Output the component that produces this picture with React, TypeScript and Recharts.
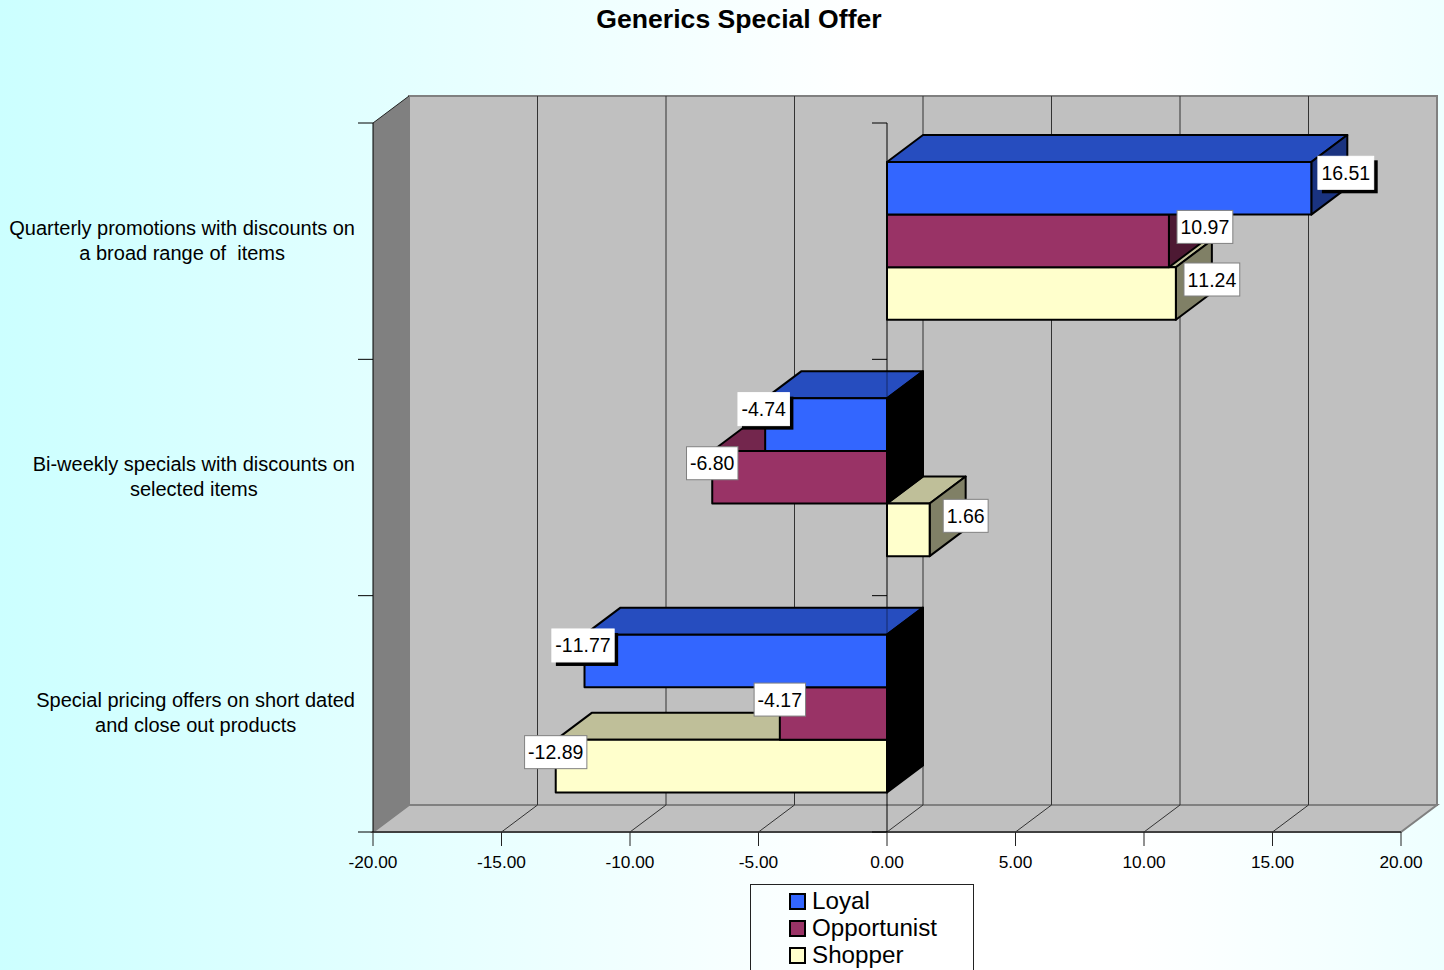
import React from 'react';
import { BarChart, Bar, XAxis, YAxis, ReferenceArea, ReferenceLine, LabelList, Legend } from 'recharts';

const categories = [
  ['Quarterly promotions with discounts on', 'a broad range of  items'],
  ['Bi-weekly specials with discounts on', 'selected items'],
  ['Special pricing offers on short dated', 'and close out products'],
];
const loyal = [16.51, -4.74, -11.77];
const opportunist = [10.97, -6.8, -4.17];
const shopper = [11.24, 1.66, -12.89];
const xTicks = [-20, -15, -10, -5, 0, 5, 10, 15, 20];

const data = categories.map((c, i) => ({
  name: c.join('|'),
  Loyal: loyal[i],
  Opportunist: opportunist[i],
  Shopper: shopper[i],
}));

const series = [
  { key: 'Loyal', front: '#3366FF', top: '#264DBF', side: '#1A3380', shadow: true },
  { key: 'Opportunist', front: '#993366', top: '#73264D', side: '#4D1933', shadow: false },
  { key: 'Shopper', front: '#FFFFCC', top: '#BFBF99', side: '#808066', shadow: false },
];

const DX = 36;
const DY = 27;
const FONT = '"Liberation Sans", Arial, sans-serif';

let ctx: any = null;
function measure(text: string, size: number, kerning = 'auto') {
  if (!ctx) ctx = document.createElement('canvas').getContext('2d');
  ctx.font = `${size}px "Liberation Sans"`;
  ctx.fontKerning = kerning;
  return ctx.measureText(text).width;
}

function Bar3D(props: any, s: (typeof series)[number]) {
  const { x, y, width, height, payload } = props;
  const v = payload[s.key];
  const l = Math.min(x, x + width);
  const r = Math.max(x, x + width);
  const b = y + height;
  const sideFill = v < 0 ? '#000000' : s.side;
  const base = v < 0 ? r : l;
  return (
    <g stroke="#000" strokeWidth={2} strokeLinejoin="round">
      <polygon points={`${l},${y} ${l + DX},${y - DY} ${r + DX},${y - DY} ${r},${y}`} fill={s.top} />
      {v < 0 && <line x1={base} x2={base} y1={y - DY} y2={y} stroke="#000" strokeOpacity={0.45} strokeWidth={1} />}
      <polygon points={`${r},${y} ${r + DX},${y - DY} ${r + DX},${b - DY} ${r},${b}`} fill={sideFill} />
      <rect x={l} y={y} width={r - l} height={height} fill={s.front} />
    </g>
  );
}

function ValueBox(props: any, s: (typeof series)[number]) {
  const { x, y, width, height, value } = props;
  const text = Number(value).toFixed(2);
  const end = x + width;
  const nudgeX = s.shadow ? -1.5 : 0;
  const nudgeY = s.shadow ? -1.5 : 0;
  const cx = (value < 0 ? end : end + DX) + nudgeX;
  const cy = y + height / 2 - 14 + nudgeY;
  const w = measure(text, 19.5, 'none') + 7;
  const h = 33;
  return (
    <g>
      {s.shadow && <rect x={cx - w / 2 + 4} y={cy - h / 2 + 4} width={w} height={h} fill="#000" />}
      <rect
        x={cx - w / 2}
        y={cy - h / 2}
        width={w}
        height={h}
        fill="#fff"
        stroke={s.shadow ? '#fff' : '#808080'}
        strokeWidth={1}
      />
      <text x={cx} y={cy + 7} textAnchor="middle" fontFamily={FONT} fontSize={19.5} fill="#000" style={{ fontKerning: 'none' }}>
        {text}
      </text>
    </g>
  );
}

function Walls(props: any) {
  const { x, y, width, height } = props;
  const r = x + width;
  const b = y + height;
  const band = height / categories.length;
  const marks = [0, 1, 2, 3].map((i) => y + i * band);
  return (
    <g>
      <polygon points={`${x + DX},${y - DY} ${r + DX},${y - DY} ${r + DX},${b - DY} ${x + DX},${b - DY}`} fill="#C0C0C0" stroke="#808080" strokeWidth={2} />
      <polygon points={`${x},${b} ${x + DX},${b - DY} ${r + DX},${b - DY} ${r},${b}`} fill="#C0C0C0" stroke="#808080" strokeWidth={2} />
      <polygon points={`${x},${y} ${x + DX},${y - DY} ${x + DX},${b - DY} ${x},${b}`} fill="#808080" />
      <line x1={x} y1={y} x2={x + DX} y2={y - DY} stroke="#222" strokeWidth={1} />
      <line x1={x} y1={b} x2={r} y2={b} stroke="#000" strokeWidth={1} />
      <line x1={x} y1={y} x2={x} y2={b} stroke="#000" strokeWidth={1} />
      {marks.map((m) => (
        <line key={m} x1={x - 15} x2={x} y1={m} y2={m} stroke="#000" strokeWidth={1} />
      ))}
    </g>
  );
}

function GridMark(props: any, v: number) {
  const { x1, y1, y2 } = props;
  const top = Math.min(y1, y2);
  const bottom = Math.max(y1, y2);
  const band = (bottom - top) / categories.length;
  return (
    <g stroke="#333" strokeWidth={1}>
      <line x1={x1} x2={x1 + DX} y1={bottom} y2={bottom - DY} />
      <line x1={x1 + DX} x2={x1 + DX} y1={top - DY} y2={bottom - DY} />
      {v === 0 && <line x1={x1} x2={x1} y1={top} y2={bottom} stroke="#000" />}
      {v === 0 &&
        [0, 1, 2, 3].map((i) => (
          <line key={i} x1={x1 - 15} x2={x1} y1={top + i * band} y2={top + i * band} stroke="#000" />
        ))}
    </g>
  );
}

function CategoryTick(props: any) {
  const { x, y, payload } = props;
  const lines: string[] = String(payload.value).split('|');
  const size = 20;
  const blockWidth = Math.max(...lines.map((t) => measure(t, size)));
  const right = x - 10;
  return (
    <g>
      {lines.map((t, i) => (
        <text
          key={i}
          x={right - blockWidth / 2}
          y={y + 6 + (i - 0.5) * 25}
          textAnchor="middle"
          fontFamily={FONT}
          fontSize={size}
          fill="#000"
          xmlSpace="preserve"
        >
          {t}
        </text>
      ))}
    </g>
  );
}

function LegendBox() {
  return (
    <div
      style={{
        position: 'relative',
        boxSizing: 'border-box',
        width: 224,
        height: 110,
        border: '1px solid #222',
        fontFamily: FONT,
        fontSize: 24.2,
        color: '#000',
      }}
    >
      {series.map((s, i) => (
        <div key={s.key} style={{ position: 'absolute', left: 38, top: 2 + i * 27, height: 27, lineHeight: '27px', whiteSpace: 'nowrap' }}>
          <span
            style={{
              display: 'inline-block',
              boxSizing: 'border-box',
              width: 17,
              height: 17,
              background: s.front,
              border: '2px solid #000',
              marginRight: 6,
              verticalAlign: -1,
            }}
          />
          {s.key}
        </div>
      ))}
    </div>
  );
}

export default function App() {
  return (
    <div
      style={{
        position: 'absolute',
        left: 0,
        top: 0,
        width: 1444,
        height: 970,
        overflow: 'hidden',
        background: 'linear-gradient(90deg, #CCFFFF 0%, #FFFFFF 60%, #FFFFFF 78%, #EEFFFF 100%)',
      }}
    >
      <div
        style={{
          position: 'absolute',
          top: 3,
          left: 0,
          width: 1478,
          textAlign: 'center',
          fontFamily: FONT,
          fontWeight: 700,
          fontSize: 26.6,
          lineHeight: '32px',
          color: '#000',
        }}
      >
        Generics Special Offer
      </div>
      <BarChart
        width={1444}
        height={970}
        data={data}
        layout="vertical"
        barSize={52.6}
        barGap={0}
        margin={{ top: 123, right: 43, bottom: 98, left: 0 }}
        style={{ position: 'absolute', left: 0, top: 0 }}
      >
        <XAxis
          type="number"
          domain={[-20, 20]}
          ticks={xTicks}
          tickFormatter={(v: number) => v.toFixed(2)}
          axisLine={false}
          tick={{ fontFamily: FONT, fontSize: 17.3, fill: '#000' }}
          tickLine={{ stroke: '#222' }}
          tickSize={14}
          tickMargin={10}
          height={40}
          allowDataOverflow
          interval={0}
        />
        <YAxis type="category" dataKey="name" width={373} axisLine={false} tickLine={false} tick={CategoryTick} interval={0} />
        <ReferenceArea x1={-20} x2={20} ifOverflow="visible" shape={Walls} zIndex={100} />
        {xTicks.slice(1, -1).map((v) => (
          <ReferenceLine key={v} x={v} ifOverflow="visible" shape={(p: any) => GridMark(p, v)} zIndex={150} />
        ))}
        {series.map((s, i) => (
          <Bar key={s.key} dataKey={s.key} isAnimationActive={false} shape={(p: any) => Bar3D(p, s)} zIndex={320 - i * 10}>
            <LabelList dataKey={s.key} content={(p: any) => ValueBox(p, s)} />
          </Bar>
        ))}
        <Legend
          layout="vertical"
          align="center"
          verticalAlign="middle"
          content={LegendBox}
          wrapperStyle={{ position: 'absolute', left: 750, top: 884, width: 224, height: 110, margin: 0 }}
        />
      </BarChart>
    </div>
  );
}
